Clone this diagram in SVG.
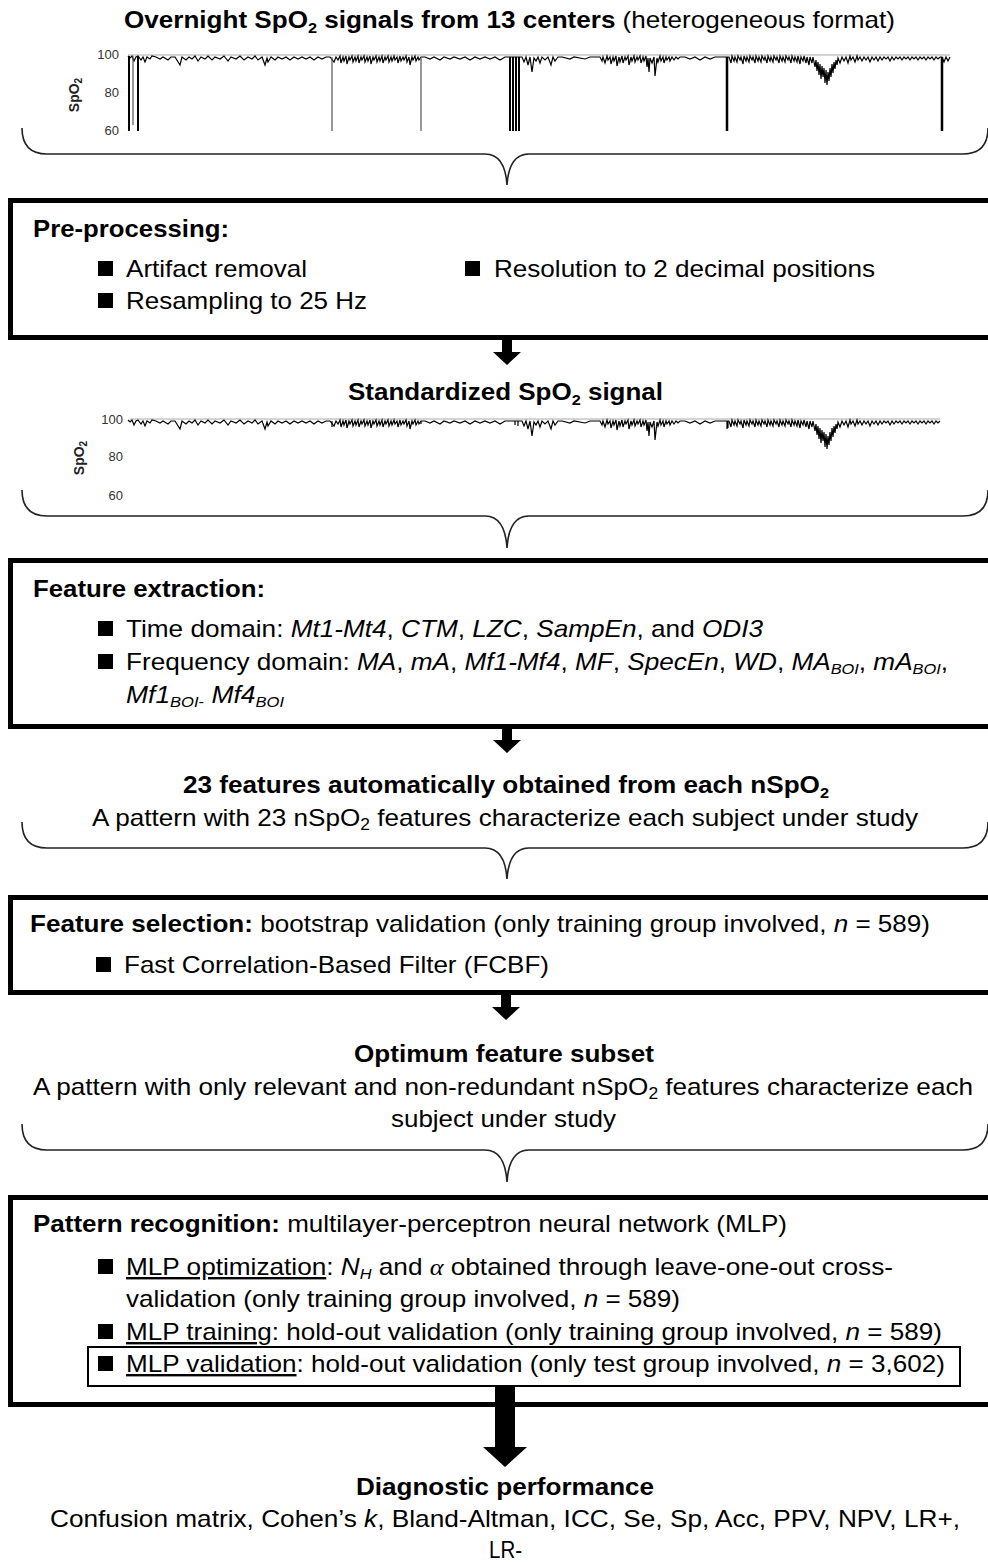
<svg xmlns="http://www.w3.org/2000/svg" xmlns:xlink="http://www.w3.org/1999/xlink" width="988" height="1562" viewBox="0 0 988 1562">
<style>
text{font-family:"Liberation Sans",Arial,sans-serif;font-size:24px;fill:#000}
.b{font-weight:bold}
.i{font-style:italic}
.u{text-decoration:underline}
.ax{font-size:13px;fill:#333}
.axl{font-size:14px;font-weight:bold;fill:#222}
.box{fill:none;stroke:#000;stroke-width:5}
.brace{fill:none;stroke:#222;stroke-width:1.6}
.bul{fill:#000}
.sig{fill:none;stroke:#000;stroke-width:1.2;stroke-linejoin:miter}
.grid{stroke:#aaa;stroke-width:1}
.arrow{fill:#000}
</style>
<defs>
<polyline id="noise" class="sig" points="128,56 130,58 132,56 134,61 136,57 138,56 141,60 143,57 145,62 147,57 150,59 152,56 156,57 160,59 163,57 168,60 171,57 175,57 180,65 182,57 186,60 189,57 192,59 195,56 198,61 201,57 205,59 208,56 212,60 215,57 220,59 224,56 228,61 231,57 236,59 240,56 244,60 248,57 252,59 255,56 258,60 262,57 265,65 267,58 268,62 271,57 275,60 278,57 282,59 286,57 290,60 294,57 298,59 302,57 306,59 310,57 314,60 318,57 322,59 326,57 330,57 334,62 336,57 338,60 340,56 341,63 343,57 344,61 346,56 347,64 349,57 350,60 352,56 353,62 355,57 356,61 358,56 359,63 361,57 362,60 364,56 365,62 367,57 368,61 370,56 371,64 373,57 374,60 376,56 377,62 379,57 380,61 382,56 383,63 385,57 386,60 388,56 389,62 391,57 392,61 394,56 395,60 397,57 398,63 400,56 401,61 403,57 404,60 406,56 407,62 409,57 410,65 412,57 413,60 415,56 416,61 418,57 419,60 421,57 425,57 430,59 434,57 440,60 444,57 450,59 454,57 460,59 465,57 470,60 475,57 480,59 485,57 490,59 495,57 500,60 505,57 510,57 522,57 524,62 526,57 528,65 530,57 532,72 534,58 536,61 538,57 540,63 542,57 545,60 548,57 551,65 553,57 555,61 558,57 562,57 570,59 574,57 585,59 590,57 600,57 602,61 603,57 605,63 607,56 608,60 610,57 611,64 613,57 614,61 616,56 617,66 619,57 620,62 622,56 623,63 625,57 626,60 628,56 629,65 631,57 632,61 634,56 635,62 637,57 638,60 640,56 641,63 643,57 644,61 646,56 647,67 648,58 649,72 650,58 652,63 654,57 655,76 657,58 658,62 660,56 661,61 663,57 664,63 666,57 667,60 669,57 670,61 672,57 674,60 676,57 678,59 680,57 685,57 690,59 695,57 700,60 705,57 710,59 715,57 720,57 729,57 731,63 732,56 734,61 735,57 737,62 738,56 740,60 741,57 743,64 744,56 746,61 747,57 749,62 750,56 752,60 753,57 755,63 756,56 758,61 759,57 761,62 762,56 764,60 765,57 767,63 768,56 770,61 771,57 773,62 774,56 776,60 777,57 779,63 780,56 782,61 783,57 785,62 786,56 788,60 789,57 791,63 792,56 794,61 795,57 797,62 798,56 800,64 801,57 803,61 804,56 806,63 807,57 809,65 810,57 812,63 813,57 815,67 816,60 817,71 818,62 819,75 820,64 821,79 822,66 823,77 824,68 825,83 826,70 827,85 828,72 829,81 830,68 831,77 832,64 833,73 834,62 835,69 836,60 837,65 838,58 840,63 842,57 844,61 846,57 848,63 850,56 851,60 853,57 855,62 857,56 858,60 860,57 862,61 864,57 866,60 868,57 870,62 872,57 874,60 876,57 878,61 880,57 882,60 884,57 886,59 888,57 890,61 892,57 894,60 896,57 898,59 900,57 902,60 904,57 906,59 908,57 910,60 912,57 914,59 916,57 918,60 920,57 922,59 924,57 926,60 928,57 930,59 932,57 934,60 936,57 938,59 940,57"/>
</defs>

<g id="title-overnight">
<text x="124" y="28" textLength="771" lengthAdjust="spacingAndGlyphs"><tspan class="b">Overnight SpO</tspan><tspan class="b" font-size="15" dy="5">2</tspan><tspan class="b" dy="-5"> signals from 13 centers</tspan> (heterogeneous format)</text>
</g>

<g id="plot-overnight">
<line class="grid" x1="128" y1="55" x2="950" y2="55"/>
<use xlink:href="#noise"/>
<polyline class="sig" points="940,57 942,57 944,62 946,57 948,61 950,57"/>
<path fill="none" stroke="#000" stroke-width="2" d="M129 56V131M138 56V131M510 57V131M513 57V131M516 57V131M519 57V131"/>
<path fill="none" stroke="#555" stroke-width="1.2" d="M133 56V125M332 57V131M421 57V131"/>
<path fill="none" stroke="#000" stroke-width="2.5" d="M727 57V131M942 57V131"/>
<text class="ax" x="119" y="59" text-anchor="end">100</text>
<text class="ax" x="119" y="97" text-anchor="end">80</text>
<text class="ax" x="119" y="135" text-anchor="end">60</text>
<text class="axl" transform="translate(79,95) rotate(-90)" text-anchor="middle">SpO<tspan font-size="10" dy="3">2</tspan></text>
</g>

<g id="brace-1">
<path class="brace" d="M22 128Q22 154 47 154L485 154Q505 154 507 185Q509 154 529 154L963 154Q988 154 988 128"/>
</g>

<g id="box-preprocessing">
<rect class="box" x="10.5" y="200.5" width="1000" height="137"/>
<text class="b" x="33" y="237" textLength="196" lengthAdjust="spacingAndGlyphs">Pre-processing:</text>
<rect class="bul" x="98" y="261" width="15" height="15"/>
<text x="126" y="277" textLength="181" lengthAdjust="spacingAndGlyphs">Artifact removal</text>
<rect class="bul" x="465" y="261" width="15" height="15"/>
<text x="494" y="277" textLength="381" lengthAdjust="spacingAndGlyphs">Resolution to 2 decimal positions</text>
<rect class="bul" x="98" y="293" width="15" height="15"/>
<text x="126" y="309" textLength="241" lengthAdjust="spacingAndGlyphs">Resampling to 25 Hz</text>
</g>

<g id="title-standardized">
<text class="b" x="348" y="400" textLength="315" lengthAdjust="spacingAndGlyphs">Standardized SpO<tspan font-size="15" dy="5">2</tspan><tspan dy="-5"> signal</tspan></text>
</g>

<g id="plot-standardized">
<line class="grid" x1="130" y1="419" x2="940" y2="419"/>
<use xlink:href="#noise" transform="translate(0,364)"/>
<path class="sig" d="M332 421v6M421 421v3M515 421v4M518 421v5M727 421v8M728 421v7"/>
<text class="ax" x="123" y="424" text-anchor="end">100</text>
<text class="ax" x="123" y="461" text-anchor="end">80</text>
<text class="ax" x="123" y="500" text-anchor="end">60</text>
<text class="axl" transform="translate(84,458) rotate(-90)" text-anchor="middle">SpO<tspan font-size="10" dy="3">2</tspan></text>
</g>

<g id="brace-2">
<path class="brace" d="M22 490Q22 516 47 516L485 516Q505 516 507 548Q509 516 529 516L963 516Q988 516 988 490"/>
</g>

<g id="box-feature-extraction">
<rect class="box" x="10.5" y="560.5" width="1000" height="166"/>
<text class="b" x="33" y="597" textLength="232" lengthAdjust="spacingAndGlyphs">Feature extraction:</text>
<rect class="bul" x="98" y="621" width="15" height="15"/>
<text x="126" y="637" textLength="637" lengthAdjust="spacingAndGlyphs">Time domain: <tspan class="i">Mt1-Mt4</tspan>, <tspan class="i">CTM</tspan>, <tspan class="i">LZC</tspan>, <tspan class="i">SampEn</tspan>, and <tspan class="i">ODI3</tspan></text>
<rect class="bul" x="98" y="654" width="15" height="15"/>
<text x="126" y="670" textLength="822" lengthAdjust="spacingAndGlyphs">Frequency domain: <tspan class="i">MA</tspan>, <tspan class="i">mA</tspan>, <tspan class="i">Mf1-Mf4</tspan>, <tspan class="i">MF</tspan>, <tspan class="i">SpecEn</tspan>, <tspan class="i">WD</tspan>, <tspan class="i">MA</tspan><tspan class="i" font-size="15" dy="4">BOI</tspan><tspan dy="-4">, </tspan><tspan class="i">mA</tspan><tspan class="i" font-size="15" dy="4">BOI</tspan><tspan dy="-4">,</tspan></text>
<text x="126" y="703" textLength="158" lengthAdjust="spacingAndGlyphs"><tspan class="i">Mf1</tspan><tspan class="i" font-size="15" dy="4">BOI</tspan><tspan font-size="15">-</tspan><tspan class="i" dy="-4"> Mf4</tspan><tspan class="i" font-size="15" dy="4">BOI</tspan></text>
</g>

<g id="features-obtained">
<text class="b" x="183" y="793" textLength="646" lengthAdjust="spacingAndGlyphs">23 features automatically obtained from each nSpO<tspan font-size="15" dy="5">2</tspan></text>
<text x="92" y="826" textLength="826" lengthAdjust="spacingAndGlyphs">A pattern with 23 nSpO<tspan font-size="16" dy="4">2</tspan><tspan dy="-4"> features characterize each subject under study</tspan></text>
</g>

<g id="brace-3">
<path class="brace" d="M22 822Q22 848 47 848L485 848Q505 848 507 879Q509 848 529 848L963 848Q988 848 988 822"/>
</g>

<g id="box-feature-selection">
<rect class="box" x="10.5" y="897.5" width="1000" height="95"/>
<text x="30" y="932" textLength="900" lengthAdjust="spacingAndGlyphs"><tspan class="b">Feature selection:</tspan> bootstrap validation (only training group involved, <tspan class="i">n</tspan> = 589)</text>
<rect class="bul" x="96" y="957" width="15" height="15"/>
<text x="124" y="973" textLength="425" lengthAdjust="spacingAndGlyphs">Fast Correlation-Based Filter (FCBF)</text>
</g>

<g id="optimum-subset">
<text class="b" x="354" y="1062" textLength="300" lengthAdjust="spacingAndGlyphs">Optimum feature subset</text>
<text x="33" y="1095" textLength="940" lengthAdjust="spacingAndGlyphs">A pattern with only relevant and non-redundant nSpO<tspan font-size="16" dy="4">2</tspan><tspan dy="-4"> features characterize each</tspan></text>
<text x="391" y="1127" textLength="225" lengthAdjust="spacingAndGlyphs">subject under study</text>
</g>

<g id="brace-4">
<path class="brace" d="M22 1124Q22 1150 47 1150L485 1150Q505 1150 507 1182Q509 1150 529 1150L963 1150Q988 1150 988 1124"/>
</g>

<g id="box-pattern-recognition">
<rect class="box" x="10.5" y="1197.5" width="1000" height="207"/>
<text x="33" y="1232" textLength="754" lengthAdjust="spacingAndGlyphs"><tspan class="b">Pattern recognition:</tspan> multilayer-perceptron neural network (MLP)</text>
<rect class="bul" x="98" y="1259" width="15" height="15"/>
<text x="126" y="1275" textLength="767" lengthAdjust="spacingAndGlyphs"><tspan class="u">MLP optimization</tspan>: <tspan class="i">N</tspan><tspan class="i" font-size="15" dy="4">H</tspan><tspan dy="-4"> and </tspan><tspan class="i" font-family="Liberation Serif, serif">α</tspan> obtained through leave-one-out cross-</text>
<text x="126" y="1307" textLength="554" lengthAdjust="spacingAndGlyphs">validation (only training group involved, <tspan class="i">n</tspan> = 589)</text>
<rect class="bul" x="98" y="1324" width="15" height="15"/>
<text x="126" y="1340" textLength="816" lengthAdjust="spacingAndGlyphs"><tspan class="u">MLP training</tspan>: hold-out validation (only training group involved, <tspan class="i">n</tspan> = 589)</text>
<rect x="88" y="1347" width="872" height="39" fill="none" stroke="#000" stroke-width="2"/>
<rect class="bul" x="98" y="1356" width="15" height="15"/>
<text x="126" y="1372" textLength="819" lengthAdjust="spacingAndGlyphs"><tspan class="u">MLP validation</tspan>: hold-out validation (only test group involved, <tspan class="i">n</tspan> = 3,602)</text>
</g>

<g id="diagnostic-performance">
<text class="b" x="356" y="1495" textLength="298" lengthAdjust="spacingAndGlyphs">Diagnostic performance</text>
<text x="50" y="1527" textLength="910" lengthAdjust="spacingAndGlyphs">Confusion matrix, Cohen’s <tspan class="i">k</tspan>, Bland-Altman, ICC, Se, Sp, Acc, PPV, NPV, LR+,</text>
<text x="489" y="1558" textLength="33" lengthAdjust="spacingAndGlyphs">LR-</text>
</g>

<g id="connectors">
<polygon class="arrow" points="502,340 512,340 512,352 521,352 507,365 493,352 502,352"/>
<polygon class="arrow" points="502,729 512,729 512,740 521,740 507,753 493,740 502,740"/>
<polygon class="arrow" points="501,995 511,995 511,1007 520,1007 506,1020 492,1007 501,1007"/>
<polygon class="arrow" points="495,1387 515,1387 515,1447 527,1447 505,1467 483,1447 495,1447"/>
</g>
</svg>
